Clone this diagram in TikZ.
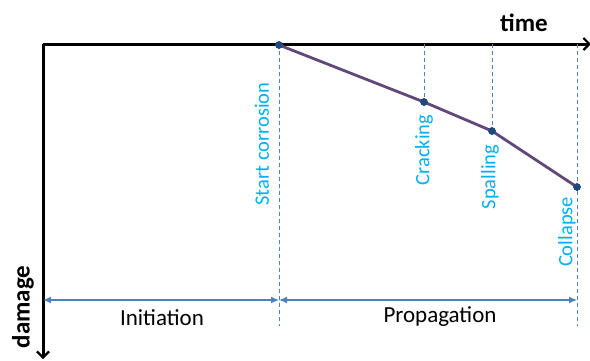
\documentclass[tikz,border=0pt]{standalone}
\usepackage{fontspec}
\setmainfont{Carlito}
\usetikzlibrary{arrows.meta}
\definecolor{curvepurple}{RGB}{96,73,122}
\definecolor{pointblue}{RGB}{31,73,125}
\definecolor{guideblue}{RGB}{79,129,189}
\definecolor{labelblue}{RGB}{0,176,240}
\begin{document}
\begin{tikzpicture}[x=1pt,y=-1pt,
  axis/.style={line width=3pt,black,-{Straight Barb[length=6pt,width=12pt,line width=2.2pt]}},
  curve/.style={line width=2.8pt,curvepurple,line join=round},
  guide/.style={guideblue,line width=1pt,dash pattern=on 4pt off 3pt},
  span/.style={guideblue,line width=1.2pt,{Latex[length=8pt,width=7pt]}-{Latex[length=8pt,width=7pt]}},
  milestone/.style={circle,fill=pointblue,draw=pointblue,inner sep=0pt,minimum size=7pt},
  eventlabel/.style={text=labelblue,font=\fontsize{20.5}{23}\selectfont,rotate=90,inner sep=0pt},
  phaselabel/.style={font=\fontsize{23}{26}\selectfont,inner sep=0pt},
  axislabel/.style={font=\fontsize{25}{28}\selectfont\bfseries,inner sep=0pt}]
\useasboundingbox (0,0) rectangle (590,360);

% axes
\coordinate (origin) at (43,44);
\coordinate (tend) at (591,44);
\coordinate (dend) at (43,359);
\draw[axis] (origin) -- (tend);
\draw[axis] (origin) -- (dend);
\node[axislabel] (time) at (524,23) {time};
\node[axislabel,rotate=90] (damage) at (23,307) {damage};

% milestones on the damage curve
\node[milestone] (start) at (279,45) {};
\node[milestone] (crack) at (424,102) {};
\node[milestone] (spall) at (492,131) {};
\node[milestone] (collapse) at (577,187) {};

% guide lines down from the time axis
\coordinate (startTop) at (279,44);
\coordinate (startBot) at (279,326);
\coordinate (crackTop) at (424,44);
\coordinate (spallTop) at (492,44);
\coordinate (collTop) at (577,44);
\coordinate (collBot) at (577,326);
\draw[guide] (startTop) -- (startBot);
\draw[guide] (crackTop) -- (crack);
\draw[guide] (spallTop) -- (spall);
\draw[guide] (collTop) -- (collBot);

% damage curve
\draw[curve] (start.center) -- (crack.center) -- (spall.center) -- (collapse.center);
\node[milestone] at (start) {};
\node[milestone] at (crack) {};
\node[milestone] at (spall) {};
\node[milestone] at (collapse) {};

% event labels
\node[eventlabel] (lstart) at (262,144) {Start corrosion};
\node[eventlabel] (lcrack) at (424,150) {Cracking};
\node[eventlabel] (lspall) at (490,177) {Spalling};
\node[eventlabel] (lcoll) at (567,232) {Collapse};

% phases
\coordinate (iniL) at (43,300);
\coordinate (mid) at (279,300);
\coordinate (propR) at (577,300);
\draw[span] (iniL) -- (mid);
\draw[span] (mid) -- (propR);
\node[phaselabel] (initiation) at (162,318) {Initiation};
\node[phaselabel] (propagation) at (440,317) {Propagation};
\end{tikzpicture}
\end{document}
